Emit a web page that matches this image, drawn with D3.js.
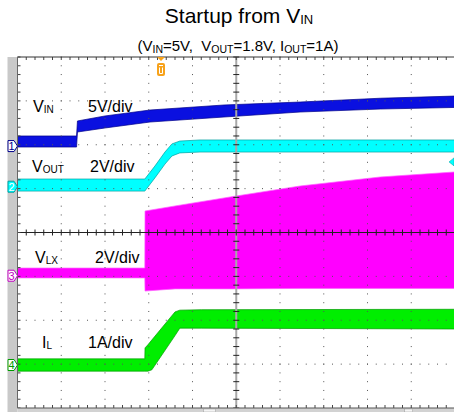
<!DOCTYPE html>
<html>
<head>
<meta charset="utf-8">
<script src="https://cdn.jsdelivr.net/npm/d3@7"></script>
<style>
  html, body { margin: 0; padding: 0; background: #fff; }
  svg { display: block; }
  text { font-family: "Liberation Sans", Arial, sans-serif; white-space: pre; }
</style>
</head>
<body>
<svg id="chart" width="454" height="412"></svg>
<script>
// ---------------- DATA ----------------
// time axis in divisions (10 div across), trace values in channel units
const timeDivTicks = [0, 1, 2, 3, 4, 5, 6, 7, 8, 9, 10];
const vertDivTicks = [-4, -3, -2, -1, 0, 1, 2, 3, 4];

// CH1 : V_IN, 5 V/div
const vinT  = [0, 1.35, 1.37, 2.0, 3.03, 4.72, 6.46, 8.29, 10];
const vinLo = [-0.11, -0.11, 1.60, 2.06, 2.74, 3.31, 3.88, 4.22, 4.40];
const vinHi = [1.15, 1.15, 2.86, 3.43, 4.11, 4.68, 5.02, 5.45, 5.70];

// CH2 : V_OUT, 2 V/div
const voutT  = [0, 2.91, 3.14, 3.37, 3.53, 3.71, 4.17, 10];
const voutLo = [-0.20, -0.20, 0.40, 1.03, 1.40, 1.54, 1.58, 1.58];
const voutHi = [0.35, 0.35, 0.94, 1.58, 1.95, 2.08, 2.13, 2.13];

// CH3 : V_LX, 2 V/div (switching envelope)
const vlxT  = [0, 2.91, 2.915, 3.6, 4.86, 6.46, 8.29, 10];
const vlxLo = [-0.10, -0.10, -0.70, -0.60, -0.60, -0.58, -0.58, -0.58];
const vlxHi = [0.35, 0.35, 2.95, 3.18, 3.59, 4.09, 4.50, 4.73];

// CH4 : I_L, 1 A/div
const ilT  = [0, 2.91, 2.915, 2.98, 3.07, 3.6, 3.71, 4.2, 10];
const ilLo = [-0.14, -0.14, -0.14, -0.14, -0.11, 0.67, 0.84, 0.84, 0.82];
const ilHi = [0.14, 0.14, 0.39, 0.46, 0.57, 1.21, 1.25, 1.26, 1.27];

// channel settings
const chNames   = ["1", "2", "3", "4"];
const chScale   = [5, 2, 2, 1];           // units per division
const chOffset  = [1.97, 1.044, -0.985, -3.02]; // ground marker position, div
const chLabel   = ["V", "V", "V", "I"];
const chSub     = ["IN", "OUT", "LX", "L"];
const chScaleTx = ["5V/div", "2V/div", "2V/div", "1A/div"];

const triggerTime = 3.28;   // div
const triggerLevel = 1.13;  // V on CH2

const titleMain = "Startup from V";
const titleSub = "IN";

// ---------------- DRAWING ----------------
const svg = d3.select("#chart");
const colors = ["#0a10e0", "#00ffff", "#ff00ff", "#00ee00"];
const edges  = ["#00008a", "#00a0a0", "#ff60ff", "#009a00"];

const x = d3.scaleLinear().domain([0, 10]).range([17.5, 455]);
const yDiv = d3.scaleLinear().domain([-4, 4]).range([408, 57]);
const chY = i => v => yDiv(chOffset[i] + v / chScale[i]);

// plot background
svg.append("rect").attr("x", x(0)).attr("y", yDiv(4)).attr("width", x(10) - x(0))
  .attr("height", yDiv(-4) - yDiv(4)).attr("fill", "#fff");

// traces
const traces = [
  [vinT, vinLo, vinHi],
  [voutT, voutLo, voutHi],
  [vlxT, vlxLo, vlxHi],
  [ilT, ilLo, ilHi]
];
const gTr = svg.append("g");
traces.forEach(([T, L, H], i) => {
  const y = chY(i);
  const pts = T.map((t, k) => ({ t, lo: L[k], hi: H[k] }));
  gTr.append("path").datum(pts)
    .attr("d", d3.area().x(d => x(d.t)).y0(d => y(d.lo)).y1(d => y(d.hi)))
    .attr("fill", colors[i]);
  gTr.append("path").datum(pts)
    .attr("d", d3.line().x(d => x(d.t)).y(d => y(d.hi)))
    .attr("fill", "none").attr("stroke", edges[i]).attr("stroke-width", 1).attr("opacity", 0.7);
  gTr.append("path").datum(pts)
    .attr("d", d3.line().x(d => x(d.t)).y(d => y(d.lo)))
    .attr("fill", "none").attr("stroke", edges[i]).attr("stroke-width", 1).attr("opacity", 0.7);
});

// grid dots
const gGrid = svg.append("g").attr("fill", "#555");
const minorY = d3.range(-20, 21).map(k => k / 5);
const minorX = d3.range(0, 51).map(k => k / 5);
timeDivTicks.filter(d => d !== 0 && d !== 5 && d !== 10).forEach(d => {
  gGrid.selectAll(null).data(minorY).join("rect")
    .attr("x", x(d) - 0.5).attr("y", v => yDiv(v) - 0.5).attr("width", 1).attr("height", 1);
});
vertDivTicks.filter(d => d !== 0 && Math.abs(d) !== 4).forEach(d => {
  gGrid.selectAll(null).data(minorX).join("rect")
    .attr("x", v => x(v) - 0.5).attr("y", yDiv(d) - 0.5).attr("width", 1).attr("height", 1);
});

// center axes
const gAx = svg.append("g");
gAx.append("line").attr("x1", x(5)).attr("x2", x(5)).attr("y1", yDiv(4)).attr("y2", yDiv(-4))
  .attr("stroke", "#a8a8a8").attr("stroke-width", 2);
gAx.append("line").attr("x1", x(0)).attr("x2", x(10)).attr("y1", yDiv(0)).attr("y2", yDiv(0))
  .attr("stroke", "#222").attr("stroke-width", 1);
gAx.selectAll(null).data(minorX).join("line")
  .attr("x1", d => x(d)).attr("x2", d => x(d))
  .attr("y1", yDiv(0) - 3).attr("y2", yDiv(0) + 3).attr("stroke", "#222");
gAx.selectAll(null).data(minorY).join("line")
  .attr("x1", x(5) - 3).attr("x2", x(5) + 3)
  .attr("y1", d => yDiv(d)).attr("y2", d => yDiv(d)).attr("stroke", "#222");

// border ticks
gAx.selectAll(null).data(minorX).join("line")
  .attr("x1", d => x(d)).attr("x2", d => x(d))
  .attr("y1", yDiv(4)).attr("y2", yDiv(4) + 3).attr("stroke", "#444");
gAx.selectAll(null).data(minorX).join("line")
  .attr("x1", d => x(d)).attr("x2", d => x(d))
  .attr("y1", yDiv(-4)).attr("y2", yDiv(-4) - 3).attr("stroke", "#444");
gAx.selectAll(null).data(minorY).join("line")
  .attr("x1", x(0)).attr("x2", x(0) + 3)
  .attr("y1", d => yDiv(d)).attr("y2", d => yDiv(d)).attr("stroke", "#444");

// borders
svg.append("rect").attr("x", 7.5).attr("y", yDiv(4)).attr("width", 10).attr("height", 412 - yDiv(4))
  .attr("fill", "#c9c9c9");
svg.append("rect").attr("x", x(0)).attr("y", yDiv(-4)).attr("width", 454 - x(0)).attr("height", 4)
  .attr("fill", "#d2d2d2");
svg.append("line").attr("x1", x(0)).attr("x2", 454).attr("y1", yDiv(4)).attr("y2", yDiv(4))
  .attr("stroke", "#333");
svg.append("line").attr("x1", x(0)).attr("x2", 454).attr("y1", yDiv(-4)).attr("y2", yDiv(-4))
  .attr("stroke", "#555");
svg.append("line").attr("x1", x(0)).attr("x2", x(0)).attr("y1", yDiv(4)).attr("y2", yDiv(-4))
  .attr("stroke", "#666");
svg.append("rect").attr("x", x(4.25)).attr("y", yDiv(-4) + 1).attr("width", 12).attr("height", 3)
  .attr("fill", "#f4f4f4").attr("stroke", "#999").attr("stroke-width", 0.5);
svg.append("rect").attr("x", x(8.85)).attr("y", yDiv(-4) + 1).attr("width", 8).attr("height", 3)
  .attr("fill", "#f4f4f4").attr("stroke", "#999").attr("stroke-width", 0.5);

// channel ground markers
chNames.forEach((n, i) => {
  const yy = chY(i)(0);
  const g = svg.append("g");
  g.append("path")
    .attr("d", `M8,${yy - 5.5}H14L17.5,${yy}L14,${yy + 5.5}H8Z`)
    .attr("fill", i === 1 ? colors[i] : "#fff").attr("stroke", edges[i] === "#ff60ff" ? "#c000c0" : edges[i])
    .attr("stroke-width", 1);
  g.append("text").attr("x", 11.5).attr("y", yy + 4).attr("text-anchor", "middle")
    .attr("font-size", 11).attr("fill", i === 1 ? "#fff" : (i === 2 ? "#c000c0" : edges[i])).text(n);
});

// trigger position marker (orange)
const tx = x(triggerTime);
svg.append("path").attr("d", `M${tx - 4},${yDiv(4)}H${tx + 4}L${tx},${yDiv(4) + 4}Z`).attr("fill", "#f7a21b");
svg.append("rect").attr("x", tx - 4).attr("y", yDiv(4) + 6).attr("width", 8).attr("height", 13).attr("rx", 2)
  .attr("fill", "#f7a21b");
svg.append("line").attr("x1", tx - 2).attr("x2", tx + 2).attr("y1", yDiv(4) + 8.5).attr("y2", yDiv(4) + 8.5)
  .attr("stroke", "#fff").attr("stroke-width", 1);
svg.append("path").attr("d", `M${tx - 1.5},${yDiv(4) + 10.5}V${yDiv(4) + 16.5}H${tx + 1.5}V${yDiv(4) + 10.5}`)
  .attr("fill", "none").attr("stroke", "#fff").attr("stroke-width", 1);

// trigger level marker (cyan, right edge)
const ty = chY(1)(triggerLevel);
svg.append("path").attr("d", `M454,${ty - 4}L449,${ty}L454,${ty + 4}Z`).attr("fill", colors[1])
  .attr("stroke", edges[1]).attr("stroke-width", 0.5);

// channel labels
const labelPos = [
  { x: 33, y: 112, sx: 88 },
  { x: 32, y: 172, sx: 90 },
  { x: 35, y: 263, sx: 95 },
  { x: 42, y: 348, sx: 88 }
];
chNames.forEach((n, i) => {
  const p = labelPos[i];
  const t = svg.append("text").attr("x", p.x).attr("y", p.y).attr("font-size", 16).attr("fill", "#000");
  t.append("tspan").text(chLabel[i]);
  t.append("tspan").attr("font-size", 10).attr("dy", 1).text(chSub[i]);
  svg.append("text").attr("x", p.sx).attr("y", p.y).attr("font-size", 16).attr("fill", "#000").text(chScaleTx[i]);
});

// title
const tt = svg.append("text").attr("x", 239).attr("y", 23).attr("text-anchor", "middle")
  .attr("font-size", 21).attr("fill", "#000");
tt.append("tspan").text(titleMain);
tt.append("tspan").attr("font-size", 13).attr("dy", 1).text(titleSub);

// subtitle
const st = svg.append("text").attr("x", 238).attr("y", 51).attr("text-anchor", "middle")
  .attr("font-size", 15).attr("fill", "#000");
const parts = [
  ["(V", 0], ["IN", 1], ["=5V,  V", 0], ["OUT", 1], ["=1.8V, I", 0], ["OUT", 1], ["=1A)", 0]
];
let prevSub = false;
parts.forEach(([s, isSub]) => {
  const sp = st.append("tspan").text(s);
  if (isSub) { sp.attr("font-size", 10.5).attr("dy", 1.5); prevSub = true; }
  else if (prevSub) { sp.attr("dy", -1.5); prevSub = false; }
});
</script>
</body>
</html>
